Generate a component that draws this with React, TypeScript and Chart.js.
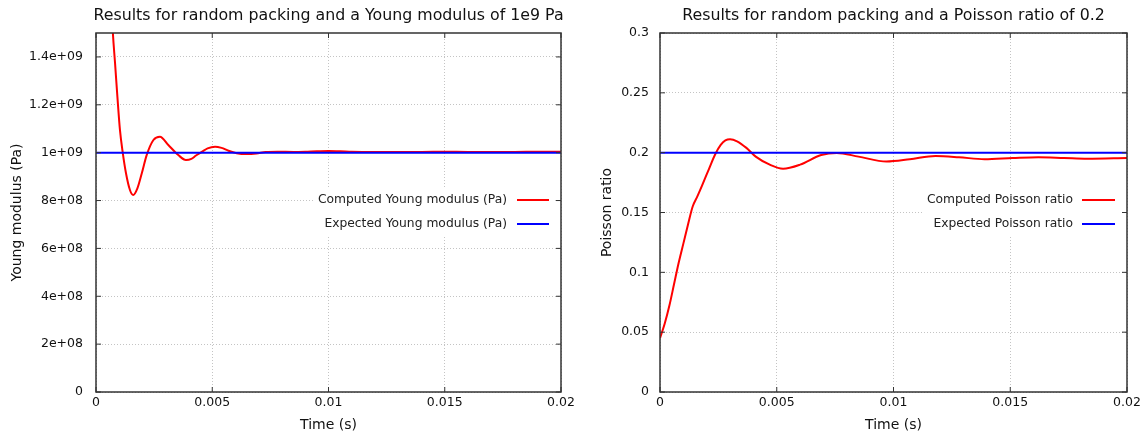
import React, { useEffect, useRef } from 'react';
import { Chart, registerables } from 'chart.js';

Chart.register(...registerables);

// ---------- data ----------
const timeTicks = [0, 0.005, 0.01, 0.015, 0.02];
const timeTickLabels = ['0', '0.005', '0.01', '0.015', '0.02'];

const youngTicks = [0, 2e8, 4e8, 6e8, 8e8, 1e9, 1.2e9, 1.4e9];
const youngTickLabels = ['0', '2e+08', '4e+08', '6e+08', '8e+08', '1e+09', '1.2e+09', '1.4e+09'];

const poissonTicks = [0, 0.05, 0.1, 0.15, 0.2, 0.25, 0.3];
const poissonTickLabels = ['0', '0.05', '0.1', '0.15', '0.2', '0.25', '0.3'];

const youngTime = [
  0, 0.00025, 0.0005, 0.00072, 0.00082, 0.00092, 0.00103, 0.00115, 0.00129, 0.00146,
  0.0016, 0.00178, 0.00197, 0.00218, 0.00247, 0.00275, 0.00311, 0.00354, 0.00387,
  0.0041, 0.0043, 0.00455, 0.0048, 0.00512, 0.0054, 0.0057, 0.00605, 0.00648, 0.0069,
  0.0073, 0.0078, 0.0085, 0.009, 0.0095, 0.01, 0.0105, 0.011, 0.012, 0.013,
  0.014, 0.015, 0.016, 0.017, 0.018, 0.019, 0.02,
];
const youngComputed = [
  3.2e9, 2.6e9, 2.0e9, 1.51e9, 1.373e9, 1.234e9, 1.095e9, 1.0e9, 0.914e9, 0.844e9,
  0.823e9, 0.851e9, 0.914e9, 0.99e9, 1.053e9, 1.067e9, 1.032e9, 0.99e9, 0.9695e9,
  0.974e9, 0.988e9, 1.003e9, 1.018e9, 1.025e9, 1.02e9, 1.008e9, 0.998e9, 0.9945e9, 0.997e9,
  1.003e9, 1.004e9, 1.003e9, 1.004e9, 1.006e9, 1.007e9, 1.006e9, 1.004e9, 1.003e9, 1.003e9,
  1.003e9, 1.004e9, 1.003e9, 1.003e9, 1.003e9, 1.004e9, 1.004e9,
];
const youngExpectedTime = [0, 0.02];
const youngExpected = [1e9, 1e9];

const poissonTime = [
  0, 0.0002, 0.0004, 0.0006, 0.0008, 0.001, 0.0012, 0.0014, 0.0016, 0.0018,
  0.0021, 0.00236, 0.0026, 0.0028, 0.003, 0.0033, 0.0037, 0.0041, 0.0047, 0.00527,
  0.006, 0.0069, 0.00757, 0.0085, 0.0097, 0.0107, 0.0118, 0.0128, 0.0139, 0.0151,
  0.0162, 0.0173, 0.0183, 0.02,
];
const poissonComputed = [
  0.045, 0.057, 0.072, 0.09, 0.108, 0.124, 0.14, 0.155, 0.1635, 0.1725,
  0.1865, 0.1985, 0.2065, 0.2102, 0.2112, 0.2095, 0.204, 0.1967, 0.19, 0.1866,
  0.19, 0.198, 0.1998, 0.1967, 0.1926, 0.1945, 0.1972, 0.1962, 0.1945, 0.1955,
  0.1962, 0.1956, 0.195, 0.1956,
];
const poissonExpectedTime = [0, 0.02];
const poissonExpected = [0.2, 0.2];

// ---------- styling ----------
const FONT = "'DejaVu Sans', sans-serif";
const TEXT = '#111';

const framePlugin = {
  id: 'frame',
  afterDatasetsDraw(chart: any, _args: any, opts: any) {
    const { ctx, chartArea, scales } = chart;
    const { left, right, top, bottom } = chartArea;
    ctx.save();
    // opaque legend
    const lg = opts.legend;
    if (lg) {
      ctx.font = `12.3px ${FONT}`;
      const ds = chart.data.datasets;
      let maxW = 0;
      ds.forEach((d: any) => { maxW = Math.max(maxW, ctx.measureText(d.label).width); });
      ctx.fillStyle = '#fff';
      const bx = lg.textRight - maxW - 3;
      ctx.fillRect(bx, lg.y0 - 12, lg.lineEnd + 5 - bx, lg.dy * (ds.length - 1) + 24);
      ctx.textAlign = 'right';
      ctx.textBaseline = 'middle';
      ds.forEach((d: any, i: number) => {
        const y = lg.y0 + i * lg.dy;
        ctx.fillStyle = '#222';
        ctx.fillText(d.label, lg.textRight, y);
        ctx.strokeStyle = d.borderColor;
        ctx.lineWidth = 2;
        ctx.beginPath();
        ctx.moveTo(lg.lineStart, y);
        ctx.lineTo(lg.lineEnd, y);
        ctx.stroke();
      });
    }
    // inner tick marks
    ctx.strokeStyle = '#333';
    ctx.lineWidth = 1;
    const len = 5;
    const seg = (x1: number, y1: number, x2: number, y2: number) => {
      ctx.beginPath(); ctx.moveTo(x1, y1); ctx.lineTo(x2, y2); ctx.stroke();
    };
    scales.x.ticks.forEach((t: any) => {
      const px = scales.x.getPixelForValue(t.value);
      seg(px, bottom, px, bottom - len);
      seg(px, top, px, top + len);
    });
    scales.y.ticks.forEach((t: any) => {
      const py = scales.y.getPixelForValue(t.value);
      seg(left, py, left + len, py);
      seg(right, py, right - len, py);
    });
    // frame
    ctx.lineWidth = 1.5;
    ctx.strokeRect(left, top, right - left, bottom - top);
    // title
    ctx.fillStyle = TEXT;
    ctx.font = `15.8px ${FONT}`;
    ctx.textAlign = 'center';
    ctx.textBaseline = 'middle';
    ctx.fillText(opts.title, (left + right) / 2, 16);
    ctx.restore();
  },
};

function makeConfig(p: any) {
  return {
    type: 'line',
    data: {
      datasets: [
        {
          label: p.computedLabel,
          data: p.computedX.map((x: number, i: number) => ({ x, y: p.computedY[i] })),
          borderColor: '#ff0000',
          borderWidth: 2,
          pointRadius: 0,
          cubicInterpolationMode: 'monotone',
          fill: false,
          order: 2,
        },
        {
          label: p.expectedLabel,
          data: p.expectedX.map((x: number, i: number) => ({ x, y: p.expectedY[i] })),
          borderColor: '#0000ff',
          borderWidth: 2,
          pointRadius: 0,
          tension: 0,
          fill: false,
          order: 1,
        },
      ],
    },
    options: {
      animation: false,
      responsive: false,
      events: [],
      layout: { padding: { top: 33, left: 0, right: p.padRight, bottom: 0 } },
      plugins: {
        legend: { display: false },
        tooltip: { enabled: false },
        title: { display: false },
        frame: { title: p.title, legend: p.legend },
      },
      scales: {
        x: {
          type: 'linear',
          min: 0,
          max: 0.02,
          afterFit: (s: any) => { s.height = 44; },
          afterBuildTicks: (s: any) => { s.ticks = timeTicks.map((v) => ({ value: v })); },
          ticks: {
            padding: 3,
            color: TEXT,
            font: { family: FONT, size: 12.5 },
            maxRotation: 0,
            autoSkip: false,
            callback: (_v: any, i: number) => timeTickLabels[i],
          },
          grid: { color: '#c4c4c4', lineWidth: 1, drawTicks: false },
          border: { display: false, dash: [1, 2] },
          title: {
            display: true,
            text: 'Time (s)',
            color: TEXT,
            font: { family: FONT, size: 14 },
            padding: { top: 0, bottom: 2.6 },
          },
        },
        y: {
          type: 'linear',
          min: 0,
          max: p.yMax,
          afterFit: (s: any) => { s.width = p.yWidth; },
          afterBuildTicks: (s: any) => { s.ticks = p.yTicks.map((v: number) => ({ value: v })); },
          ticks: {
            padding: p.yPad,
            color: TEXT,
            font: { family: FONT, size: 12.5 },
            autoSkip: false,
            callback: (_v: any, i: number) => p.yTickLabels[i],
          },
          grid: { color: '#c4c4c4', lineWidth: 1, drawTicks: false },
          border: { display: false, dash: [1, 2] },
          title: {
            display: true,
            text: p.yTitle,
            color: TEXT,
            font: { family: FONT, size: 14 },
            padding: { top: p.yTitlePad, bottom: 0 },
          },
        },
      },
    },
    plugins: [framePlugin],
  } as any;
}

export default function App() {
  const leftRef = useRef<HTMLCanvasElement>(null);
  const rightRef = useRef<HTMLCanvasElement>(null);

  useEffect(() => {
    const left = new Chart(
      leftRef.current as HTMLCanvasElement,
      makeConfig({
        title: 'Results for random packing and a Young modulus of 1e9 Pa',
        computedLabel: 'Computed Young modulus (Pa)',
        expectedLabel: 'Expected Young modulus (Pa)',
        computedX: youngTime,
        computedY: youngComputed,
        expectedX: youngExpectedTime,
        expectedY: youngExpected,
        yTicks: youngTicks,
        yTickLabels: youngTickLabels,
        yMax: 1.5e9,
        yTitle: 'Young modulus (Pa)',
        yWidth: 96,
        yPad: 13,
        yTitlePad: 9,
        padRight: 39,
        legend: { textRight: 507, lineStart: 517, lineEnd: 549, y0: 200, dy: 24 },
      })
    );
    const right = new Chart(
      rightRef.current as HTMLCanvasElement,
      makeConfig({
        title: 'Results for random packing and a Poisson ratio of 0.2',
        computedLabel: 'Computed Poisson ratio',
        expectedLabel: 'Expected Poisson ratio',
        computedX: poissonTime,
        computedY: poissonComputed,
        expectedX: poissonExpectedTime,
        expectedY: poissonExpected,
        yTicks: poissonTicks,
        yTickLabels: poissonTickLabels,
        yMax: 0.3,
        yTitle: 'Poisson ratio',
        yWidth: 86,
        yPad: 11,
        yTitlePad: 24.6,
        padRight: 21,
        legend: { textRight: 1073 - 574, lineStart: 1082 - 574, lineEnd: 1115 - 574, y0: 200, dy: 24 },
      })
    );
    return () => {
      left.destroy();
      right.destroy();
    };
  }, []);

  return (
    <div style={{ position: 'absolute', left: 0, top: 0, width: 1148, height: 436, background: '#fff', overflow: 'hidden' }}>
      <canvas ref={leftRef} width={600} height={436} style={{ position: 'absolute', left: 0, top: 0 }} />
      <canvas ref={rightRef} width={574} height={436} style={{ position: 'absolute', left: 574, top: 0 }} />
    </div>
  );
}
